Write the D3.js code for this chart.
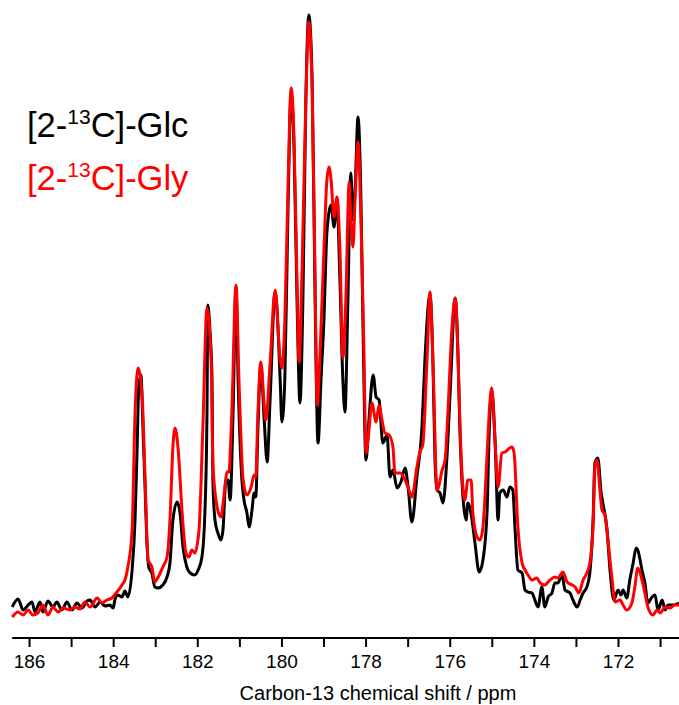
<!DOCTYPE html>
<html>
<head>
<meta charset="utf-8">
<script src="https://cdn.jsdelivr.net/npm/d3@7"></script>
<style>
  body { margin: 0; background: #fff; }
  svg { display: block; font-family: "Liberation Sans", Arial, sans-serif; }
</style>
</head>
<body>
<div id="chart"></div>
<script>
// [ppm, intensity (a.u.)]
const glc = [
  [186.40, 13], [186.26, 21], [186.14, 10], [186.02, 15], [185.93, 18], [185.86, 8],
  [185.74, 18], [185.67, 8], [185.55, 19], [185.43, 13], [185.34, 18], [185.22, 10],
  [185.10, 18], [184.98, 10], [184.86, 17], [184.74, 12], [184.62, 19], [184.55, 20],
  [184.43, 13], [184.31, 18], [184.19, 14], [184.08, 15], [184.00, 12], [183.96, 20],
  [183.89, 25], [183.79, 23], [183.72, 29], [183.65, 23], [183.55, 50], [183.48, 100],
  [183.43, 173], [183.39, 235], [183.34, 245], [183.29, 190], [183.24, 130], [183.20, 80],
  [183.15, 52], [183.08, 47], [183.01, 33], [182.93, 32], [182.82, 35], [182.72, 43],
  [182.65, 57], [182.58, 100], [182.48, 118], [182.41, 107], [182.34, 73], [182.25, 53],
  [182.17, 47], [182.06, 45], [181.98, 50], [181.89, 63], [181.82, 107], [181.77, 207],
  [181.75, 315], [181.70, 290], [181.65, 240], [181.63, 140], [181.58, 100], [181.51, 87],
  [181.44, 80], [181.39, 90], [181.32, 140], [181.27, 140], [181.22, 120], [181.15, 207],
  [181.08, 333], [181.03, 240], [180.94, 140], [180.89, 120], [180.82, 107], [180.77, 93],
  [180.70, 110], [180.65, 127], [180.61, 123], [180.56, 190], [180.49, 255], [180.41, 200],
  [180.34, 158], [180.27, 220], [180.15, 328], [180.03, 240], [179.99, 198], [179.92, 240],
  [179.84, 420], [179.77, 527], [179.70, 470], [179.63, 320], [179.56, 217], [179.49, 320],
  [179.42, 520], [179.35, 605], [179.27, 540], [179.20, 320], [179.13, 177], [179.06, 240],
  [178.99, 300], [178.92, 387], [178.82, 415], [178.75, 393], [178.68, 420], [178.61, 340],
  [178.54, 240], [178.49, 208], [178.42, 320], [178.35, 447], [178.30, 400], [178.25, 430],
  [178.18, 503], [178.11, 420], [178.06, 290], [177.99, 160], [177.92, 200], [177.82, 245],
  [177.75, 223], [177.68, 220], [177.59, 177], [177.49, 185], [177.42, 143], [177.35, 150],
  [177.25, 132], [177.16, 138], [177.06, 152], [176.99, 133], [176.90, 98], [176.78, 143],
  [176.66, 193], [176.59, 260], [176.47, 325], [176.40, 260], [176.35, 160], [176.30, 130],
  [176.23, 127], [176.16, 117], [176.07, 160], [175.99, 227], [175.87, 322], [175.80, 260],
  [175.76, 193], [175.68, 120], [175.61, 100], [175.57, 117], [175.47, 100], [175.40, 77],
  [175.30, 48], [175.21, 60], [175.11, 110], [175.07, 177], [175.00, 227], [174.92, 177],
  [174.85, 100], [174.81, 127], [174.73, 130], [174.64, 123], [174.57, 133], [174.50, 130],
  [174.45, 93], [174.38, 50], [174.28, 47], [174.21, 30], [174.14, 28], [174.04, 27],
  [174.00, 23], [173.90, 13], [173.81, 33], [173.74, 13], [173.66, 23], [173.57, 27],
  [173.50, 37], [173.43, 37], [173.33, 45], [173.26, 30], [173.14, 27], [173.07, 20],
  [172.97, 13], [172.90, 20], [172.83, 27], [172.74, 33], [172.67, 47], [172.59, 103],
  [172.55, 157], [172.48, 162], [172.40, 127], [172.36, 117], [172.26, 90], [172.19, 50],
  [172.10, 20], [172.00, 30], [171.93, 25], [171.88, 30], [171.79, 22], [171.72, 40],
  [171.64, 57], [171.57, 72], [171.53, 70], [171.43, 50], [171.36, 37], [171.29, 17],
  [171.19, 23], [171.12, 25], [171.05, 10], [170.95, 20], [170.88, 10], [170.81, 15],
  [170.69, 15], [170.55, 17]
];

const gly = [
  [186.40, 3], [186.26, 8], [186.14, 5], [186.02, 10], [185.91, 5], [185.79, 7],
  [185.67, 15], [185.55, 5], [185.43, 13], [185.31, 8], [185.19, 12], [185.03, 10],
  [184.91, 13], [184.79, 11], [184.67, 18], [184.55, 13], [184.38, 22], [184.27, 17],
  [184.15, 20], [184.03, 22], [183.91, 28], [183.79, 35], [183.72, 40], [183.65, 53],
  [183.55, 90], [183.48, 207], [183.41, 252], [183.31, 223], [183.24, 140], [183.17, 60],
  [183.08, 53], [183.01, 38], [182.93, 43], [182.82, 53], [182.72, 63], [182.65, 100],
  [182.58, 173], [182.53, 192], [182.46, 173], [182.36, 107], [182.27, 67], [182.20, 63],
  [182.13, 70], [182.06, 67], [181.96, 90], [181.87, 190], [181.77, 312], [181.67, 257],
  [181.63, 157], [181.53, 113], [181.44, 103], [181.37, 123], [181.29, 148], [181.25, 148],
  [181.18, 207], [181.08, 335], [181.01, 240], [180.91, 140], [180.82, 125], [180.72, 133],
  [180.65, 145], [180.61, 143], [180.56, 207], [180.49, 258], [180.41, 215], [180.37, 200],
  [180.27, 257], [180.15, 330], [180.03, 260], [179.99, 252], [179.92, 300], [179.84, 440],
  [179.77, 532], [179.70, 480], [179.63, 340], [179.58, 258], [179.51, 350], [179.42, 520],
  [179.35, 598], [179.27, 530], [179.20, 340], [179.15, 215], [179.08, 270], [178.99, 370],
  [178.92, 440], [178.87, 453], [178.82, 440], [178.75, 403], [178.68, 423], [178.61, 370],
  [178.54, 262], [178.47, 320], [178.39, 438], [178.35, 400], [178.30, 373], [178.25, 420],
  [178.18, 478], [178.11, 400], [178.04, 270], [177.99, 167], [177.92, 190], [177.85, 217],
  [177.75, 198], [177.68, 215], [177.61, 200], [177.54, 187], [177.44, 185], [177.35, 173],
  [177.30, 147], [177.18, 147], [177.06, 140], [176.97, 130], [176.90, 123], [176.78, 153],
  [176.71, 168], [176.64, 175], [176.54, 260], [176.47, 328], [176.40, 260], [176.30, 130],
  [176.18, 150], [176.11, 160], [176.04, 210], [175.95, 290], [175.87, 322], [175.80, 260],
  [175.76, 200], [175.64, 120], [175.57, 140], [175.49, 140], [175.45, 107], [175.35, 83],
  [175.28, 80], [175.21, 93], [175.11, 167], [175.04, 220], [175.00, 232], [174.92, 177],
  [174.85, 133], [174.76, 167], [174.69, 168], [174.52, 173], [174.47, 167], [174.38, 93],
  [174.28, 57], [174.21, 50], [174.14, 45], [174.04, 40], [173.93, 42], [173.85, 37],
  [173.74, 35], [173.62, 40], [173.50, 43], [173.43, 42], [173.31, 48], [173.21, 38],
  [173.09, 35], [173.02, 33], [172.93, 27], [172.83, 40], [172.74, 47], [172.67, 57],
  [172.59, 97], [172.55, 153], [172.50, 160], [172.43, 130], [172.38, 110], [172.31, 105],
  [172.24, 80], [172.14, 40], [172.07, 18], [171.95, 20], [171.88, 15], [171.79, 10],
  [171.67, 17], [171.60, 33], [171.53, 52], [171.43, 40], [171.36, 27], [171.29, 13],
  [171.17, 5], [171.07, 10], [171.00, 7], [170.88, 13], [170.76, 12], [170.65, 15],
  [170.55, 15]
];

const tickValues = d3.range(171, 187);
const labelValues = [172, 174, 176, 178, 180, 182, 184, 186];

const size = { width: 679, height: 705 };

const svg = d3.select("#chart")
  .append("svg")
  .attr("width", size.width)
  .attr("height", size.height);

// ppm axis runs right to left
const x = d3.scaleLinear().domain([186.69, 170.55]).range([0, 679]);
const y = d3.scaleLinear().domain([0, 600]).range([620, 20]);

const axisY = 638;

const line = d3.line()
  .x((d) => x(d[0]))
  .y((d) => y(d[1]))
  .curve(d3.curveMonotoneX);

svg.append("path")
  .datum(glc)
  .attr("d", line)
  .attr("fill", "none")
  .attr("stroke", "#000")
  .attr("stroke-width", 3)
  .attr("stroke-linejoin", "round");

svg.append("path")
  .datum(gly)
  .attr("d", line)
  .attr("fill", "none")
  .attr("stroke", "#f00")
  .attr("stroke-width", 3)
  .attr("stroke-linejoin", "round");

// axis
const axis = d3.axisBottom(x)
  .tickValues(tickValues)
  .tickSize(9)
  .tickPadding(8)
  .tickFormat((d) => (labelValues.includes(d) ? d : ""));

const gx = svg.append("g")
  .attr("transform", `translate(0,${axisY})`)
  .call(axis);

gx.select(".domain").remove();
gx.selectAll(".tick line").attr("stroke", "#000").attr("stroke-width", 2);
gx.selectAll(".tick text")
  .attr("fill", "#000")
  .style("font-size", "19px")
  .style("font-family", "Liberation Sans, Arial, sans-serif");

svg.append("line")
  .attr("x1", x(186.4))
  .attr("x2", 679)
  .attr("y1", axisY)
  .attr("y2", axisY)
  .attr("stroke", "#000")
  .attr("stroke-width", 2);

svg.append("text")
  .attr("x", 378)
  .attr("y", 700)
  .attr("text-anchor", "middle")
  .style("font-size", "20px")
  .text("Carbon-13 chemical shift / ppm");

// legend labels
const labels = [
  { base: "Glc", color: "#000", y: 137 },
  { base: "Gly", color: "#f00", y: 190 },
];

labels.forEach((l) => {
  const t = svg.append("text")
    .attr("x", 27)
    .attr("y", l.y)
    .attr("fill", l.color)
    .style("font-size", "34.5px");
  t.append("tspan").text("[2-");
  t.append("tspan").attr("dy", -13).style("font-size", "21px").text("13");
  t.append("tspan").attr("dy", 13).text("C]-" + l.base);
});
</script>
</body>
</html>
